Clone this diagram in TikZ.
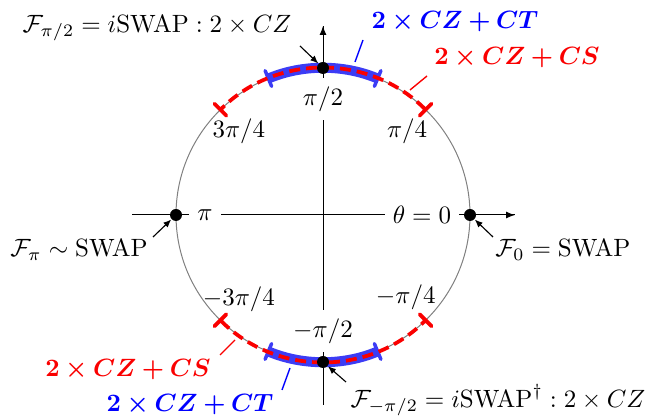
\documentclass[tikz,border=0pt]{standalone}
\usepackage{bm}
\usetikzlibrary{arrows.meta,calc}
\definecolor{bandcol}{RGB}{60,60,245}
\definecolor{redcol}{RGB}{250,0,0}
\begin{document}
\begin{tikzpicture}[x=0.4pt,y=0.4pt,
  dot/.style={circle,fill=black,inner sep=0pt,minimum size=4.8pt},
  axlabel/.style={fill=white},
  pointer/.style={-{Latex[length=3.2pt,width=2.6pt]},line width=0.45pt},
  axisline/.style={line width=0.4pt},
  bandblue/.style={line width=4pt,draw=bandcol,{Bar[width=6.8pt,line width=1.4pt,round]}-{Bar[width=6.8pt,line width=1.4pt,round]}},
  bandred/.style={line width=1.5pt,draw=redcol,dash pattern=on 4.4pt off 2.4pt,{Bar[width=6.8pt,line width=1.5pt,round]}-{Bar[width=6.8pt,line width=1.5pt,round]}},
  bluelead/.style={draw=blue,line width=0.55pt},
  redlead/.style={draw=redcol,line width=0.55pt},
  bluetext/.style={text=blue},
  redtext/.style={text=redcol}
]
\useasboundingbox (0,0) rectangle (653,418);
\coordinate (C) at (323,203);
% circle
\draw[gray,line width=0.4pt] (C) circle[radius=147];
% axes
\coordinate (hl) at (132,203);
\coordinate (hr) at (515,203);
\coordinate (vb) at (323,13);
\coordinate (vt) at (323,392);
\draw[axisline] (hl) -- (hr);
\draw[axisline,-{Latex[length=3.6pt,width=2.8pt]}] (C) -- (hr);
\draw[axisline] (vb) -- (vt);
\draw[axisline,-{Latex[length=3.6pt,width=2.8pt]}] (C) -- (vt);
% axis labels
\node[axlabel] (lpi) at (205,203) {$\pi$};
\node[axlabel] (l0) at (422,203) {$\theta = 0$};
\node[axlabel] (lp2) at (323,319) {$\pi/2$};
\node[axlabel] (lm2) at (323,87) {$-\pi/2$};
% tick labels
\node (l34) at ($(C)+(135:119)$) {$3\pi/4$};
\node (l14) at ($(C)+(45:119)$) {$\pi/4$};
\node (lm34) at ($(C)+(-135:119)$) {$-3\pi/4$};
\node (lm14) at ($(C)+(-45:117)$) {$-\pi/4$};
% bands
\draw[bandblue] ($(C)+(67.5:147)$) arc[start angle=67.5,end angle=112.5,radius=147];
\draw[bandblue] ($(C)+(-112.5:147)$) arc[start angle=-112.5,end angle=-67.5,radius=147];
\draw[bandred] ($(C)+(45:147)$) arc[start angle=45,end angle=135,radius=147];
\draw[bandred] ($(C)+(-135:147)$) arc[start angle=-135,end angle=-45,radius=147];
% dots
\node[dot] (d0) at ($(C)+(0:147)$) {};
\node[dot] (dp2) at ($(C)+(90:147)$) {};
\node[dot] (dpi) at ($(C)+(180:147)$) {};
\node[dot] (dm2) at ($(C)+(270:147)$) {};
% state labels
\node (Fp2) at (157,390) {$\mathcal{F}_{\pi/2} = i\mathrm{SWAP} : 2\times CZ$};
\node (F0) at (563,168) {$\mathcal{F}_{0} = \mathrm{SWAP}$};
\node (Fpi) at (79,168) {$\mathcal{F}_{\pi} \sim \mathrm{SWAP}$};
\node (Fm2) at (498,18) {$\mathcal{F}_{-\pi/2} = i\mathrm{SWAP}^\dagger : 2\times CZ$};
\coordinate (p1) at (300,372);
\coordinate (p2) at (493,181);
\coordinate (p3) at (153,181);
\coordinate (p4) at (346,36);
\draw[pointer] (p1) -- (dp2);
\draw[pointer] (p2) -- (d0);
\draw[pointer] (p3) -- (dpi);
\draw[pointer] (p4) -- (dm2);
% gate labels
\node[bluetext] (CTt) at (455,396) {$\bm{2\times CZ + CT}$};
\node[redtext] (CSt) at (517,360) {$\bm{2\times CZ + CS}$};
\node[redtext] (CSb) at (128,48) {$\bm{2\times CZ + CS}$};
\node[bluetext] (CTb) at (190,13) {$\bm{2\times CZ + CT}$};
\coordinate (b1a) at (355,356);
\coordinate (b1b) at (363,378);
\coordinate (r1a) at (410,328);
\coordinate (r1b) at (427,342);
\coordinate (r2a) at (220,63);
\coordinate (r2b) at (235,78);
\coordinate (b2a) at (282,28);
\coordinate (b2b) at (290,50);
\draw[bluelead] (b1a) -- (b1b);
\draw[redlead] (r1a) -- (r1b);
\draw[redlead] (r2a) -- (r2b);
\draw[bluelead] (b2a) -- (b2b);
\end{tikzpicture}
\end{document}
